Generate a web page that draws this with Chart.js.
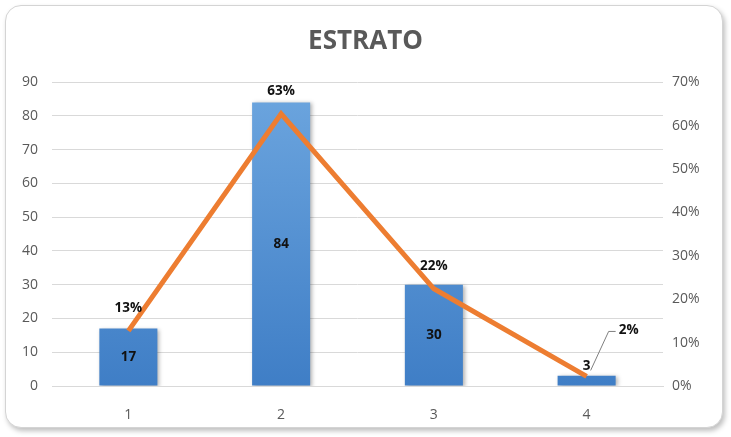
<!DOCTYPE html>
<html>
<head>
<meta charset="utf-8">
<script src="https://cdn.jsdelivr.net/npm/chart.js@4"></script>
<style>
  body { margin: 0; background: #fff; }
  #card {
    position: absolute; left: 5px; top: 5px; width: 716px; height: 421px;
    border: 1px solid #d4d4d4; border-radius: 16px; background: #fff;
    box-shadow: 2px 3px 5px rgba(0,0,0,0.25);
  }
  #wrap { position: absolute; left: 0; top: 0; width: 731px; height: 437px; }
</style>
</head>
<body>
<div id="card"></div>
<div id="wrap"><canvas id="estratoChart" width="731" height="437"></canvas></div>
<script>
// datos
const estratos = ['1', '2', '3', '4'];
const frecuencia = [17, 84, 30, 3];
const porcentaje = [0.127, 0.627, 0.224, 0.022];
const etiquetasPct = ['13%', '63%', '22%', '2%'];

const FONT = "'Open Sans', sans-serif";

// etiquetas de datos (no hay plugin datalabels)
const etiquetas = {
    id: 'etiquetas',
    afterDatasetsDraw(chart) {
        const ctx = chart.ctx;
        const barras = chart.getDatasetMeta(0).data;
        const puntos = chart.getDatasetMeta(1).data;
        ctx.save();
        ctx.font = 'bold 13.5px ' + FONT;
        ctx.fillStyle = '#111';
        ctx.textAlign = 'center';
        ctx.textBaseline = 'middle';
        barras.forEach((b, i) => {
            const alto = b.base - b.y;
            const y = alto < 25 ? b.y - 10 : (b.y + b.base) / 2;
            ctx.fillText(frecuencia[i], b.x, y);
        });
        puntos.forEach((p, i) => {
            if (i === 3) {
                // etiqueta con línea guía
                ctx.strokeStyle = '#7f7f7f';
                ctx.lineWidth = 1;
                ctx.beginPath();
                ctx.moveTo(p.x + 4, p.y - 6);
                ctx.lineTo(p.x + 22, p.y - 45);
                ctx.lineTo(p.x + 29, p.y - 45);
                ctx.stroke();
                ctx.fillText(etiquetasPct[i], p.x + 42, p.y - 46);
            } else {
                ctx.fillText(etiquetasPct[i], p.x, p.y - 23);
            }
        });
        ctx.restore();
    }
};

// sombra de las barras
const sombra = {
    id: 'sombra',
    beforeDatasetDraw(chart, args) {
        if (args.index !== 0) return;
        const ctx = chart.ctx;
        ctx.save();
        ctx.shadowColor = 'rgba(0,0,0,0.3)';
        ctx.shadowBlur = 4;
        ctx.shadowOffsetX = 2;
        ctx.shadowOffsetY = 1;
    },
    afterDatasetDraw(chart, args) {
        if (args.index !== 0) return;
        chart.ctx.restore();
    }
};

document.addEventListener('DOMContentLoaded', function () {
    const ctx = document.getElementById('estratoChart').getContext('2d');
    new Chart(ctx, {
        type: 'bar',
        data: {
            labels: estratos,
            datasets: [{
                type: 'bar',
                data: frecuencia,
                yAxisID: 'y',
                order: 1,
                backgroundColor: function (c) {
                    const area = c.chart.chartArea;
                    if (!area) return '#5b9bd5';
                    const g = c.chart.ctx.createLinearGradient(0, area.top, 0, area.bottom);
                    g.addColorStop(0, '#6da6df');
                    g.addColorStop(1, '#3f7ec6');
                    return g;
                },
                barPercentage: 0.76,
                categoryPercentage: 0.5
            }, {
                type: 'line',
                data: porcentaje,
                yAxisID: 'y1',
                order: 0,
                borderColor: '#ed7d31',
                borderWidth: 5,
                borderJoinStyle: 'miter',
                pointRadius: 0,
                tension: 0
            }]
        },
        options: {
            responsive: false,
            animation: false,
            layout: { padding: { top: 6, left: 0, right: 0, bottom: 0 } },
            plugins: {
                legend: { display: false },
                tooltip: { enabled: false },
                title: {
                    display: true,
                    text: 'ESTRATO',
                    color: '#595959',
                    font: { family: FONT, size: 26, weight: 'bold' },
                    padding: { top: 20, bottom: 25 }
                }
            },
            scales: {
                x: {
                    grid: { display: false },
                    border: { color: '#d9d9d9' },
                    ticks: { color: '#595959', font: { family: FONT, size: 14 }, padding: 13 },
                    afterFit: s => { s.height = 51; }
                },
                y: {
                    position: 'left',
                    min: 0, max: 90,
                    ticks: { stepSize: 10, color: '#595959', font: { family: FONT, size: 14 }, padding: 14 },
                    grid: { color: '#d9d9d9', drawTicks: false },
                    border: { display: false },
                    afterFit: s => { s.width = 52; }
                },
                y1: {
                    position: 'right',
                    min: 0, max: 0.7,
                    ticks: {
                        stepSize: 0.1, color: '#595959', font: { family: FONT, size: 14 }, padding: 9,
                        callback: v => Math.round(v * 100) + '%'
                    },
                    grid: { display: false, drawTicks: false },
                    border: { display: false },
                    afterFit: s => { s.width = 68; }
                }
            }
        },
        plugins: [sombra, etiquetas]
    });
});
</script>
</body>
</html>
